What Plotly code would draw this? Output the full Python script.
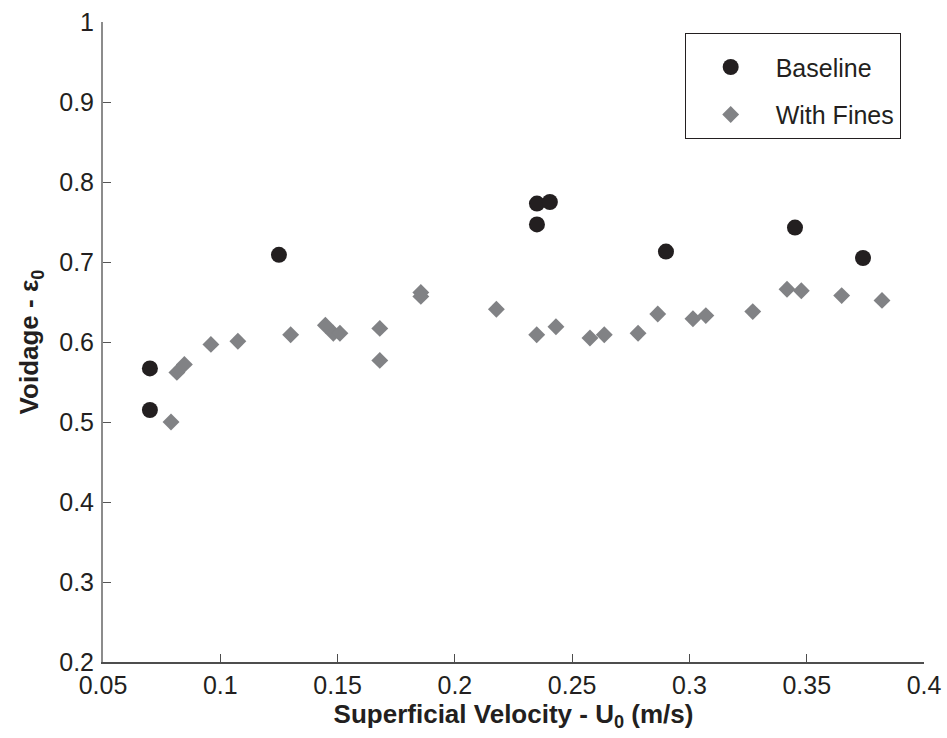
import plotly.graph_objects as go

# Superficial velocity U0 (m/s) and voidage for the baseline bed
baseline_u0 = [0.070, 0.070, 0.125, 0.235, 0.235, 0.2405, 0.290, 0.345, 0.374]
baseline_voidage = [0.567, 0.515, 0.709, 0.773, 0.747, 0.775, 0.713, 0.743, 0.705]

# Superficial velocity U0 (m/s) and voidage for the bed with fines
fines_u0 = [0.079, 0.0815, 0.0847, 0.096, 0.1075, 0.130, 0.1448, 0.1482, 0.151,
            0.168, 0.168, 0.1855, 0.1855, 0.2177, 0.2349, 0.2431, 0.2576, 0.2637,
            0.2781, 0.2865, 0.3015, 0.307, 0.327, 0.3416, 0.3477, 0.3649, 0.3821]
fines_voidage = [0.500, 0.562, 0.572, 0.597, 0.601, 0.609, 0.621, 0.611, 0.611,
                 0.617, 0.577, 0.662, 0.657, 0.641, 0.609, 0.619, 0.605, 0.609,
                 0.611, 0.635, 0.629, 0.633, 0.638, 0.666, 0.664, 0.658, 0.652]

x_ticks = [0.05, 0.1, 0.15, 0.2, 0.25, 0.3, 0.35, 0.4]
x_tick_text = ["0.05", "0.1", "0.15", "0.2", "0.25", "0.3", "0.35", "0.4"]
y_ticks = [0.2, 0.3, 0.4, 0.5, 0.6, 0.7, 0.8, 0.9, 1.0]
y_tick_text = ["0.2", "0.3", "0.4", "0.5", "0.6", "0.7", "0.8", "0.9", "1"]

FONT = "Liberation Sans, Arial, Helvetica, sans-serif"
INK = "#231f20"
GREY = "#818285"

fig = go.Figure()
fig.add_trace(go.Scatter(
    x=baseline_u0, y=baseline_voidage, mode="markers", name="Baseline",
    legendgroup="a",
    marker=dict(symbol="circle", size=16, color=INK, line=dict(width=0)),
))
fig.add_trace(go.Scatter(
    x=fines_u0, y=fines_voidage, mode="markers", name="With Fines",
    legendgroup="b",
    marker=dict(symbol="diamond", size=13, color=GREY, line=dict(width=0)),
))

fig.update_layout(
    width=947, height=738,
    margin=dict(l=103, r=23, t=22, b=76, autoexpand=False),
    paper_bgcolor="white", plot_bgcolor="white",
    font=dict(family=FONT, size=25, color=INK),
    showlegend=True,
    legend=dict(
        x=0.7085, y=0.983, xanchor="left", yanchor="top",
        xref="paper", yref="paper",
        bgcolor="white", bordercolor=INK, borderwidth=1,
        font=dict(family=FONT, size=25, color=INK),
        title=dict(text=" ", font=dict(size=8)),
        itemwidth=80, tracegroupgap=12, traceorder="grouped",
    ),
    xaxis=dict(
        range=[0.05, 0.4], tickmode="array", tickvals=x_ticks, ticktext=x_tick_text,
        ticks="inside", ticklen=8, tickwidth=1.2, tickcolor="#4d4d4d",
        showline=True, linecolor="#4d4d4d", linewidth=1.5,
        showgrid=False, zeroline=False, mirror=False, automargin=False,
        tickfont=dict(family=FONT, size=25, color=INK),
        title=dict(text="<b>Superficial Velocity - U<sub>0</sub> (m/s)</b>",
                   font=dict(family=FONT, size=26, color=INK), standoff=5),
    ),
    yaxis=dict(
        range=[0.2, 1.0], tickmode="array", tickvals=y_ticks, ticktext=y_tick_text,
        ticks="inside", ticklen=8, tickwidth=1.2, tickcolor="#555555",
        showline=True, linecolor="#8c8c8c", linewidth=2,
        showgrid=False, zeroline=False, mirror=False, automargin=False,
        tickfont=dict(family=FONT, size=25, color=INK),
        ticklabelstandoff=2,
        title=dict(text="<b>Voidage - ε<sub>0</sub></b>",
                   font=dict(family=FONT, size=26, color=INK), standoff=13),
    ),
)

fig.write_html("out.html")
